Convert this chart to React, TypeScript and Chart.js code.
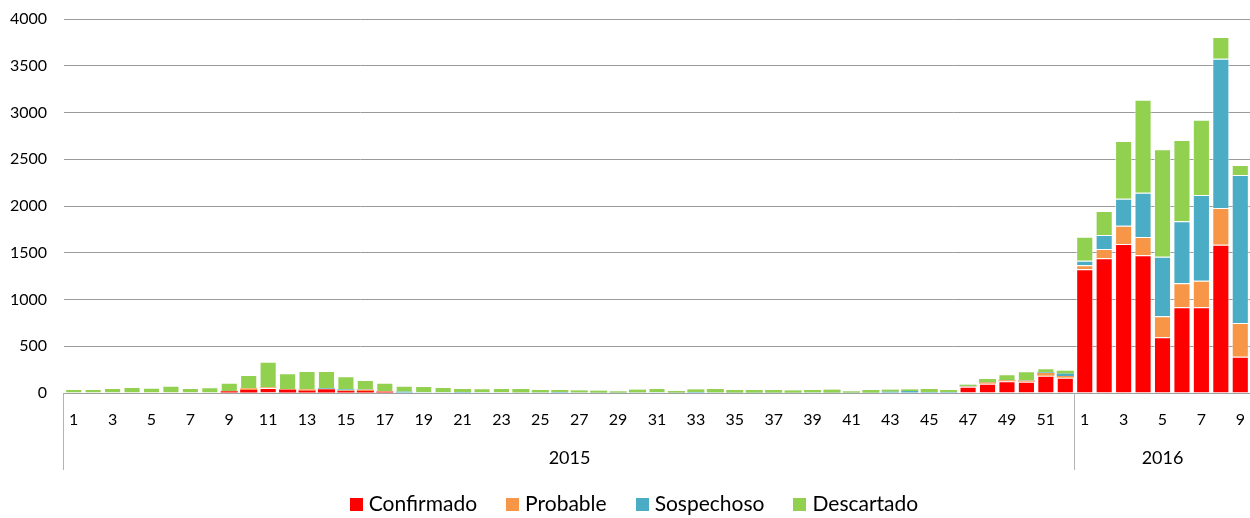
import React, { useEffect, useRef } from "react";
import { Chart, registerables } from "chart.js";

Chart.register(...registerables);

const weeks2015: string[] = Array.from({ length: 52 }, (_, i) => String(i + 1));
const weeks2016: string[] = ["1", "2", "3", "4", "5", "6", "7", "8", "9"];
const categories: string[] = [...weeks2015, ...weeks2016];
const years: string[] = ["2015", "2016"];

const confirmado: number[] = [
  0, 0, 0, 0, 0, 0, 0, 0, 18, 32, 53, 36, 25, 39, 21, 21, 14, 0, 0, 0,
  0, 0, 0, 0, 0, 0, 0, 0, 0, 0, 0, 0, 0, 0, 0, 0, 0, 0, 0, 0,
  0, 0, 0, 0, 0, 0, 68, 100, 125, 121, 185, 164,
  1323, 1440, 1594, 1472, 595, 916, 916, 1586, 388,
];
const probable: number[] = [
  0, 0, 0, 0, 0, 0, 0, 0, 4, 18, 7, 4, 14, 4, 7, 14, 4, 0, 0, 0,
  0, 0, 0, 0, 0, 0, 0, 0, 0, 0, 0, 0, 0, 0, 0, 0, 0, 0, 0, 0,
  0, 0, 0, 0, 0, 0, 4, 14, 11, 11, 29, 18,
  43, 100, 196, 196, 225, 257, 285, 393, 361,
];
const sospechoso: number[] = [
  0, 0, 0, 0, 0, 0, 0, 0, 0, 0, 0, 0, 0, 7, 11, 4, 0, 14, 7, 7,
  11, 7, 7, 7, 7, 11, 7, 4, 4, 7, 7, 4, 11, 7, 4, 4, 4, 4, 7, 4,
  4, 4, 14, 21, 11, 11, 4, 4, 4, 4, 7, 25,
  49, 150, 288, 474, 638, 663, 917, 1597, 1583,
];
const descartado: number[] = [
  43, 43, 53, 64, 57, 78, 53, 61, 88, 142, 275, 170, 196, 185, 139, 100, 92, 64, 68, 57,
  32, 43, 46, 36, 25, 21, 21, 21, 14, 29, 46, 17, 28, 36, 28, 28, 28, 24, 25, 32,
  14, 28, 22, 18, 32, 21, 13, 32, 60, 96, 43, 31,
  257, 257, 617, 995, 1148, 870, 805, 231, 107,
];
const yTicks: number[] = [0, 500, 1000, 1500, 2000, 2500, 3000, 3500, 4000];

const FONT = "Lato, 'Open Sans', sans-serif";

const yearPlugin = {
  id: "yearGroups",
  afterDraw(chart: any) {
    const x = chart.scales.x;
    const area = chart.chartArea;
    const ctx = chart.ctx;
    const n = categories.length;
    const half = (x.getPixelForValue(1) - x.getPixelForValue(0)) / 2;
    const leftEdge = x.getPixelForValue(0) - half;
    const split = x.getPixelForValue(weeks2015.length) - half;
    const rightEdge = x.getPixelForValue(n - 1) + half;
    ctx.save();
    ctx.strokeStyle = "#b3b3b3";
    ctx.lineWidth = 1;
    [leftEdge, split].forEach((px: number) => {
      const p = Math.round(px) - 0.5;
      ctx.beginPath();
      ctx.moveTo(p, area.bottom);
      ctx.lineTo(p, area.bottom + 77);
      ctx.stroke();
    });
    ctx.fillStyle = "#000";
    ctx.font = `18px ${FONT}`;
    ctx.textAlign = "center";
    ctx.textBaseline = "middle";
    ctx.fillText(years[0], (leftEdge + split) / 2, area.bottom + 65);
    ctx.fillText(years[1], (split + rightEdge) / 2, area.bottom + 65);
    ctx.restore();
  },
};

const legendPlugin = {
  id: "customLegend",
  afterDraw(chart: any) {
    const ctx = chart.ctx;
    const items = chart.data.datasets.map((d: any) => ({ text: d.label, color: d.backgroundColor }));
    const box = 13;
    const gapBoxText = 6;
    const gapItems = 29;
    ctx.save();
    ctx.font = `21px ${FONT}`;
    const widths = items.map((it: any) => ctx.measureText(it.text).width);
    const total =
      widths.reduce((a: number, w: number) => a + box + gapBoxText + w, 0) + gapItems * (items.length - 1);
    const centerX = 634;
    const cy = 504;
    let x = centerX - total / 2;
    ctx.textAlign = "left";
    ctx.textBaseline = "middle";
    items.forEach((it: any, i: number) => {
      ctx.fillStyle = it.color;
      ctx.fillRect(Math.round(x), Math.round(cy - box / 2), box, box);
      x += box + gapBoxText;
      ctx.fillStyle = "#000";
      ctx.fillText(it.text, x, cy);
      x += widths[i] + gapItems;
    });
    ctx.restore();
  },
};

export default function App() {
  const ref = useRef<HTMLCanvasElement | null>(null);
  useEffect(() => {
    document.body.style.margin = "0";
    if (!ref.current) return;
    const border = "rgba(255,255,255,0.6)";
    const bw = (c: any) => {
      const v = c.raw ?? 0;
      return v >= 40 ? 1 : 0;
    };
    const chart = new Chart(ref.current, {
      type: "bar",
      data: {
        labels: categories,
        datasets: [
          { label: "Confirmado", data: confirmado, backgroundColor: "#FF0000", borderColor: border, borderWidth: bw },
          { label: "Probable", data: probable, backgroundColor: "#F79646", borderColor: border, borderWidth: bw },
          { label: "Sospechoso", data: sospechoso, backgroundColor: "#4BACC6", borderColor: border, borderWidth: bw },
          { label: "Descartado", data: descartado, backgroundColor: "#92D050", borderColor: border, borderWidth: bw },
        ],
      },
      options: {
        animation: false,
        responsive: true,
        maintainAspectRatio: false,
        layout: { padding: { top: 19, left: 0, right: 0, bottom: 48 } },
        datasets: { bar: { barPercentage: 0.88, categoryPercentage: 1 } },
        plugins: {
          legend: { display: false },
          tooltip: { enabled: false },
        },
        scales: {
          x: {
            stacked: true,
            grid: {
              display: true,
              drawOnChartArea: false,
              color: "rgba(0,0,0,0)",
              drawTicks: true,
              tickLength: 17,
              tickColor: "rgba(0,0,0,0)",
            },
            border: { display: true, color: "#a0a0a0", width: 1 },
            ticks: {
              autoSkip: false,
              maxRotation: 0,
              padding: 0,
              color: "#000",
              font: { family: FONT, size: 16 },
              callback: (_v: any, i: number) => (i % 2 === 0 ? categories[i] : ""),
            },
            afterFit: (scale: any) => {
              scale.height = 77;
            },
          },
          y: {
            stacked: true,
            min: 0,
            max: 4000,
            afterBuildTicks: (scale: any) => {
              scale.ticks = yTicks.map((v) => ({ value: v }));
            },
            grid: {
              color: "#9a9a9a",
              drawTicks: true,
              tickLength: 17,
              tickColor: "rgba(0,0,0,0)",
            },
            border: { display: false },
            ticks: {
              padding: 0,
              color: "#000",
              font: { family: FONT, size: 16 },
              callback: (v: any) => String(v),
            },
            afterFit: (scale: any) => {
              scale.width = 64;
            },
          },
        },
      },
      plugins: [yearPlugin, legendPlugin],
    });
    return () => chart.destroy();
  }, []);
  return (
    <div style={{ position: "fixed", left: 0, top: 0, width: 1250, height: 518, overflow: "hidden" }}>
      <div style={{ position: "relative", width: 1250, height: 518 }}>
        <canvas ref={ref} />
      </div>
    </div>
  );
}
